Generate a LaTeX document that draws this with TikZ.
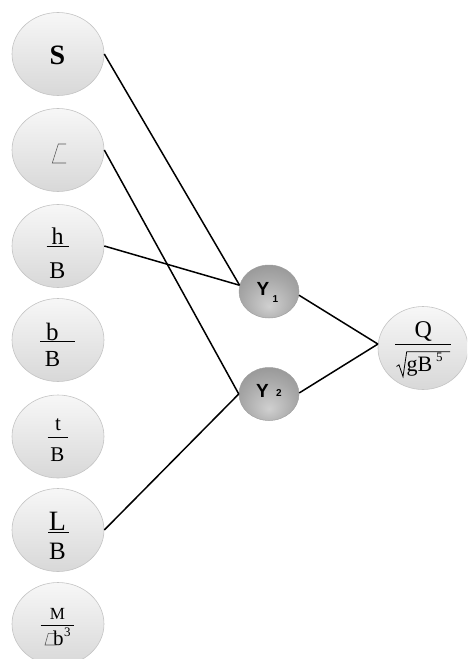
\documentclass[tikz,border=0pt]{standalone}
\usepackage{fontspec}
\setmainfont{Liberation Serif}
\newfontfamily\ysans{Liberation Sans}
\usetikzlibrary{shapes.geometric}
\definecolor{topgray}{HTML}{F7F7F7}
\definecolor{botgray}{HTML}{D8D8D8}
\definecolor{rimgray}{HTML}{C4C4C4}
\definecolor{ylight}{HTML}{D0D0D0}
\definecolor{ymid}{HTML}{A8A8A8}
\definecolor{ydark}{HTML}{858585}
\definecolor{hidrim}{HTML}{A0A0A0}
\definecolor{missgray}{HTML}{555555}
\pgfdeclareradialshading{yball}{\pgfpoint{0bp}{-14bp}}{color(0bp)=(ylight);color(22bp)=(ymid);color(45bp)=(ydark);color(60bp)=(ydark)}
\newcommand\fs[1]{\fontsize{#1}{#1}\selectfont}
\begin{document}
\begin{tikzpicture}[x=1pt,y=-1pt,
  inbox/.style={ellipse, draw=rimgray, line width=0.6pt, top color=topgray, bottom color=botgray, minimum width=92pt, minimum height=83pt, inner sep=0pt},
  hid/.style={ellipse, draw=hidrim, line width=0.5pt, shading=yball, minimum width=60pt, minimum height=53pt, inner sep=0pt},
  lbl/.style={inner sep=0pt, outer sep=0pt, anchor=base, text=black},
  bar/.style={line width=0.9pt, black},
  wire/.style={line width=1.5pt, black},
  miss/.style={line width=0.55pt, draw=missgray}]
\useasboundingbox (0,0) rectangle (467,659);
\clip (0,0) rectangle (467,659);
% input nodes
\node[inbox] (s) at (58,54) {};
\node[inbox] (g) at (58,150) {};
\node[inbox] (hb) at (58,246) {};
\node[inbox] (bb) at (58,340) {};
\node[inbox] (tb) at (58,436.5) {};
\node[inbox] (lb) at (58,530) {};
\node[inbox] (mg) at (58,624) {};
\node[inbox, minimum width=90pt] (q) at (423,348) {};
\node[hid] (y1) at (269,291.5) {};
\node[hid] (y2) at (269,394) {};
% connectors
\draw[wire] (s.east) -- (y1.168);
\draw[wire] (hb.east) -- (y1.168);
\draw[wire] (g.east) -- (y2.west);
\draw[wire] (lb.east) -- (y2.west);
\draw[wire] (y1.-7) -- (q.175);
\draw[wire] (y2.2) -- (q.175);
% S
\node[lbl, font=\fs{28}\bfseries] (st) at (57.5,64) {S};
% missing glyph
\draw[miss] (66,144) -- (58.3,144) -- (52.3,163) -- (66,163);
% h/B
\node[lbl, font=\fs{24}] (hn) at (57.5,244) {h};
\draw[bar] (46.7,246.7) -- (69,246.7);
\node[lbl, font=\fs{24}] (hd) at (57.5,278.3) {B};
% b/B
\node[lbl, font=\fs{25}] (bn) at (52.3,340.3) {b};
\draw[bar, line width=1.3pt] (40,341.7) -- (75,341.7);
\node[lbl, font=\fs{23}] (bd) at (52.5,366.7) {B};
% t/B
\node[lbl, font=\fs{21}] (tn) at (58,430) {t};
\draw[bar] (47.7,437.7) -- (68.3,437.7);
\node[lbl, font=\fs{21}] (td) at (57.5,461.7) {B};
% L/B
\node[lbl, font=\fs{28}] (ln) at (57.5,530.5) {L};
\draw[bar] (48,532) -- (69.3,532);
\node[lbl, font=\fs{25}] (ld) at (57.5,559) {B};
% M / gamma b^3
\node[lbl, font=\fs{17}] (mn) at (57.5,619.3) {M};
\draw[bar] (40.7,625.7) -- (74,625.7);
\draw[miss] (56.7,633.3) -- (48.3,633.3) -- (45,645) -- (56.7,645);
\node[lbl, anchor=base west, font=\fs{21}] (md) at (53,645) {b};
\node[lbl, anchor=base west, font=\fs{13}] (me) at (64,636.7) {3};
% Q / sqrt(g B^5)
\node[lbl, font=\fs{24}] (qn) at (423.3,337) {Q};
\draw[bar] (395,344) -- (451,344);
\draw[line width=0.8pt, line join=miter] (396.5,366.5) -- (399,364.8) -- (403,376.7) -- (406.7,351.7) -- (450,351.7);
\node[lbl, anchor=base west, font=\fs{22}] (qd) at (406.7,371.7) {gB};
\node[lbl, anchor=base west, font=\fs{13}] (qe) at (436,361.7) {5};
% hidden node labels
\node[lbl, anchor=base west, font=\ysans\fs{19}\bfseries] (y1t) at (256.5,295) {Y};
\node[lbl, anchor=base west, font=\ysans\fs{10}\bfseries] (y1s) at (272.5,302) {1};
\node[lbl, anchor=base west, font=\ysans\fs{19}\bfseries] (y2t) at (256.2,397) {Y};
\node[lbl, anchor=base west, font=\ysans\fs{10}\bfseries] (y2s) at (276,396) {2};
\end{tikzpicture}
\end{document}
